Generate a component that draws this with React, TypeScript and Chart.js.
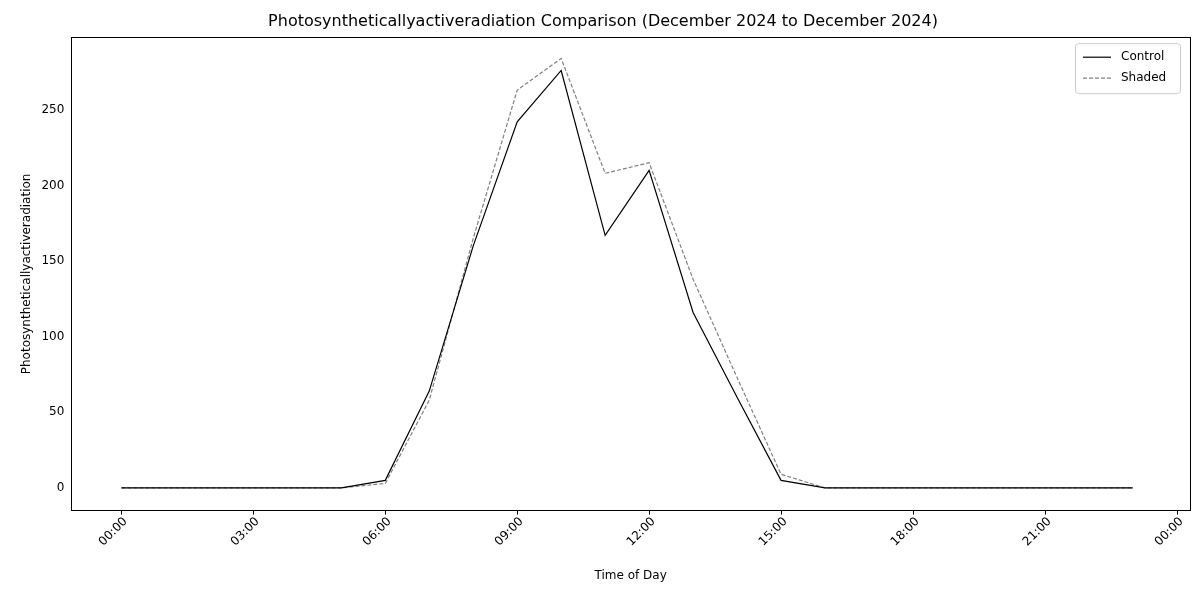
import { useEffect, useRef } from 'react';
import Chart from 'chart.js/auto';

const hours = [0, 1, 2, 3, 4, 5, 6, 7, 8, 9, 10, 11, 12, 13, 14, 15, 16, 17, 18, 19, 20, 21, 22, 23];
const control = [0, 0, 0, 0, 0, 0, 5, 64, 160, 242, 276, 167, 210, 116, 60, 5, 0, 0, 0, 0, 0, 0, 0, 0];
const shaded = [0, 0, 0, 0, 0, 0, 3, 58, 165, 263, 284, 208, 215, 138, 73, 9, 0, 0, 0, 0, 0, 0, 0, 0];
const seriesNames = ['Control', 'Shaded'];
const xTicks = [0, 3, 6, 9, 12, 15, 18, 21, 24];

const FONT = 'DejaVu Sans';

const frameAndLegend = {
    id: 'frameAndLegend',
    afterDraw(chart: any) {
        const { ctx, chartArea } = chart;
        const xs = chart.scales.x;
        ctx.save();
        // frame
        ctx.strokeStyle = '#000';
        ctx.lineWidth = 1;
        ctx.strokeRect(Math.round(chartArea.left) + 0.5, Math.round(chartArea.top) + 0.5,
            Math.round(chartArea.right - chartArea.left), Math.round(chartArea.bottom - chartArea.top));
        // x ticks & rotated labels
        ctx.font = `12px ${FONT}`;
        ctx.fillStyle = '#000';
        xTicks.forEach(v => {
            const px = Math.round(xs.getPixelForValue(v)) + 0.5;
            ctx.beginPath();
            ctx.moveTo(px, chartArea.bottom);
            ctx.lineTo(px, chartArea.bottom + 4);
            ctx.stroke();
            ctx.save();
            ctx.translate(px + 4, chartArea.bottom + 9);
            ctx.rotate(-Math.PI / 4);
            ctx.textAlign = 'right';
            ctx.textBaseline = 'middle';
            ctx.fillText(String(v % 24).padStart(2, '0') + ':00', 0, 0);
            ctx.restore();
        });
        // legend
        const w = 105, h = 50;
        const x = chartArea.right - w - 10, y = chartArea.top + 6;
        ctx.fillStyle = 'rgba(255,255,255,0.8)';
        ctx.strokeStyle = '#cccccc';
        ctx.beginPath();
        ctx.roundRect(x + 0.5, y + 0.5, w, h, 3);
        ctx.fill();
        ctx.stroke();
        ctx.font = `12px ${FONT}`;
        ctx.textBaseline = 'middle';
        ctx.textAlign = 'left';
        seriesNames.forEach((name, i) => {
            const ly = y + 14 + i * 21;
            ctx.strokeStyle = i === 0 ? '#000000' : '#808080';
            ctx.lineWidth = 1.2;
            ctx.setLineDash(i === 0 ? [] : [4, 2]);
            ctx.beginPath();
            ctx.moveTo(x + 8, ly);
            ctx.lineTo(x + 36, ly);
            ctx.stroke();
            ctx.setLineDash([]);
            ctx.fillStyle = '#000';
            ctx.fillText(name, x + 46, ly);
        });
        ctx.restore();
    }
};

export default function App() {
    const canvas = useRef<HTMLCanvasElement>(null);

    useEffect(() => {
        const chart = new Chart(canvas.current as HTMLCanvasElement, {
            type: 'line',
            data: {
                datasets: [
                    {
                        label: seriesNames[0],
                        data: hours.map((h, i) => ({ x: h, y: control[i] })),
                        borderColor: '#000000',
                        borderWidth: 1.2,
                        pointRadius: 0,
                        tension: 0
                    },
                    {
                        label: seriesNames[1],
                        data: hours.map((h, i) => ({ x: h, y: shaded[i] })),
                        borderColor: '#808080',
                        borderWidth: 1.2,
                        borderDash: [4, 2],
                        pointRadius: 0,
                        tension: 0
                    }
                ]
            },
            options: {
                animation: false,
                responsive: false,
                layout: { padding: { left: 16, right: 10, top: 0, bottom: 13 } },
                plugins: {
                    legend: { display: false },
                    tooltip: { enabled: false },
                    title: {
                        display: true,
                        text: 'Photosyntheticallyactiveradiation Comparison (December 2024 to December 2024)',
                        color: '#000',
                        font: { family: FONT, size: 16, weight: 'normal' },
                        padding: { top: 12, bottom: 6 }
                    }
                },
                scales: {
                    x: {
                        type: 'linear',
                        min: -1.14,
                        max: 24.3,
                        grid: { display: false },
                        border: { display: false },
                        ticks: { display: false },
                        title: {
                            display: true, text: 'Time of Day', color: '#000',
                            font: { family: FONT, size: 12 }, padding: { top: 50, bottom: 4 }
                        }
                    },
                    y: {
                        min: -15,
                        max: 298,
                        afterBuildTicks: (axis: any) => {
                            axis.ticks = [0, 50, 100, 150, 200, 250].map(v => ({ value: v }));
                        },
                        grid: { display: false, drawTicks: true, tickColor: '#000', tickLength: 4 },
                        border: { color: '#000' },
                        ticks: { color: '#000', font: { family: FONT, size: 12 } },
                        title: {
                            display: true,
                            text: 'Photosyntheticallyactiveradiation',
                            color: '#000',
                            font: { family: FONT, size: 12 }
                        }
                    }
                }
            },
            plugins: [frameAndLegend]
        });
        return () => chart.destroy();
    }, []);

    return (
        <div style={{ position: 'absolute', left: 0, top: 0 }}>
            <canvas ref={canvas} width={1200} height={600} />
        </div>
    );
}
